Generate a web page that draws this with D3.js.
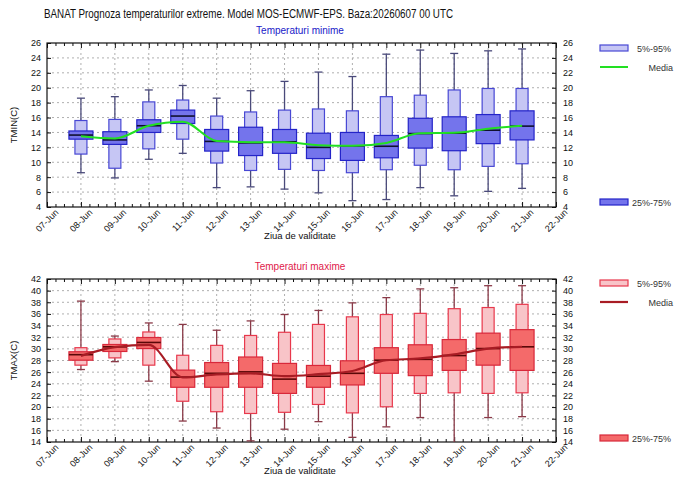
<!DOCTYPE html>
<html><head><meta charset="utf-8">
<script src="https://cdn.jsdelivr.net/npm/d3@7"></script>
<style>body{margin:0;background:#fff}svg{display:block;font-family:"Liberation Sans",Arial,sans-serif}</style>
</head><body><svg id="c" width="692" height="480"></svg>
<script>
const dateLabels = ["07-Jun","08-Jun","09-Jun","10-Jun","11-Jun","12-Jun","13-Jun","14-Jun","15-Jun","16-Jun","17-Jun","18-Jun","19-Jun","20-Jun","21-Jun","22-Jun"];
const dayIdx = [1,2,3,4,5,6,7,8,9,10,11,12,13,14];

const tminMax  = [18.6,18.8,19.7,20.3,18.6,19.6,20.85,22.1,21.5,24.5,25.05,24.6,24.95,25.2];
const tminP95  = [15.6,15.75,18.1,18.35,16.2,16.75,17.0,17.15,16.9,18.8,19.0,19.7,19.9,19.9];
const tminP75  = [14.2,14.1,15.7,17.0,14.4,14.7,14.4,13.9,14.0,13.6,15.9,16.1,16.4,16.9];
const tminMed  = [13.65,13.0,14.9,16.2,12.8,12.6,12.75,12.0,12.2,12.15,13.85,13.9,14.3,14.85];
const tminP25  = [13.1,12.4,14.0,15.2,11.5,10.9,11.2,10.5,10.25,10.6,11.9,11.55,12.5,13.0];
const tminP5   = [11.1,9.2,11.8,13.1,9.9,8.9,9.05,8.9,8.6,9.0,9.6,9.0,9.45,9.8];
const tminMin  = [8.6,7.9,10.4,11.2,6.6,6.7,6.4,5.9,4.85,5.0,6.6,5.5,6.1,6.5];
const tminMean = [13.5,13.2,14.9,15.45,12.85,12.7,12.7,12.3,12.2,12.6,13.9,13.95,14.5,14.9];

const tmaxMax  = [38.2,32.2,34.45,34.2,33.2,34.8,35.9,36.6,37.9,38.8,40.3,40.5,40.85,40.85];
const tmaxP95  = [30.2,31.7,32.9,28.9,30.6,32.3,32.85,34.2,35.5,35.9,36.1,36.9,37.1,37.65];
const tmaxP75  = [29.5,30.75,31.95,26.35,27.65,28.6,27.5,27.15,27.95,30.2,30.7,31.6,32.7,33.3];
const tmaxMed  = [29.0,30.35,31.1,25.15,25.8,26.05,24.8,25.3,25.8,28.05,28.2,28.85,30.05,30.35];
const tmaxP25  = [28.05,29.55,30.05,23.4,23.4,23.4,22.35,23.4,23.8,25.8,25.4,26.3,27.2,26.3];
const tmaxP5   = [27.2,28.45,27.2,21.0,19.2,18.9,19.1,20.45,19.0,20.05,22.35,22.45,22.35,22.45];
const tmaxMin  = [26.45,27.8,24.45,17.6,16.4,14.2,16.2,17.5,14.8,16.6,18.2,13.9,18.2,18.35];
const tmaxMean = [28.8,30.3,30.7,25.1,25.6,25.8,25.3,25.65,26.2,28.05,28.35,29.05,30.05,30.35];

const tminTicks = d3.range(4, 27, 2);
const tmaxTicks = d3.range(14, 43, 2);

const svg = d3.select("#c");
const X0 = 47, X1 = 556;
const x = d3.scaleLinear().domain([0, 15]).range([X0, X1]);

svg.append("text").attr("x", 44).attr("y", 18)
  .attr("font-size", 12).attr("fill","#111")
  .attr("textLength", 409).attr("lengthAdjust", "spacingAndGlyphs")
  .text("BANAT  Prognoza temperaturilor extreme.  Model MOS-ECMWF-EPS. Baza:20260607 00 UTC");

function panel(cfg) {
  const {top, bottom, domain, ticks, id, sub, subColor, ylab, col, data, legY} = cfg;
  const y = d3.scaleLinear().domain(domain).range([bottom, top]);
  const g = svg.append("g");
  g.append("text").attr("x", 300).attr("y", top - 9).attr("text-anchor","middle")
    .attr("font-size", 10).attr("fill", subColor).text(sub);
  g.append("clipPath").attr("id", id).append("rect")
    .attr("x", X0).attr("y", top).attr("width", X1 - X0).attr("height", bottom - top);
  // grid
  const grid = g.append("g").attr("stroke","#9a9a9a").attr("stroke-width",0.8).attr("stroke-dasharray","2,3");
  grid.selectAll(".gy").data(ticks.slice(1, -1)).join("line")
    .attr("x1", X0).attr("x2", X1).attr("y1", d => y(d)).attr("y2", d => y(d));
  grid.selectAll(".gx").data(d3.range(1, 15)).join("line")
    .attr("x1", d => x(d)).attr("x2", d => x(d)).attr("y1", top).attr("y2", bottom);
  // axes
  const fs = 9;
  const left = d3.axisLeft(y).tickValues(ticks).tickSize(-4).tickPadding(6);
  const right = d3.axisRight(y).tickValues(ticks).tickSize(-4).tickPadding(7);
  const ga = g.append("g").attr("transform", `translate(${X0},0)`).call(left);
  const gb = g.append("g").attr("transform", `translate(${X1},0)`).call(right);
  const xMinor = d3.range(0, 15.01, 0.25);
  const gx = g.append("g").attr("transform", `translate(0,${bottom})`)
    .call(d3.axisBottom(x).tickValues(xMinor).tickSize(0).tickFormat(""));
  gx.selectAll(".tick line").attr("y2", d => Number.isInteger(d) ? -5 : -3);
  const gt = g.append("g").attr("transform", `translate(0,${top})`)
    .call(d3.axisTop(x).tickValues(xMinor).tickSize(0).tickFormat(""));
  gt.selectAll(".tick line").attr("y2", d => Number.isInteger(d) ? 5 : 3);
  [ga, gb, gx, gt].forEach(a => {
    a.select(".domain").remove();
    a.selectAll("text").attr("font-size", fs).attr("fill","#111").attr("font-family",'"Liberation Sans",Arial,sans-serif');
    a.selectAll("line").attr("stroke","#111");
  });
  g.append("rect").attr("x", X0).attr("y", top).attr("width", X1 - X0).attr("height", bottom - top)
    .attr("fill","none").attr("stroke","#111").attr("stroke-width",1.2);
  // x labels
  g.selectAll(".xl").data(dateLabels).join("text")
    .attr("font-size", fs).attr("fill","#111").attr("text-anchor","end")
    .attr("transform", (d, i) => `translate(${x(i) + 12},${bottom + 6}) rotate(-45)`).text(d => d);
  g.append("text").attr("x", 300).attr("y", bottom + 32).attr("text-anchor","middle")
    .attr("font-size", 9.5).attr("fill","#111").text("Ziua de validitate");
  g.append("text").attr("transform", `translate(17,${(top + bottom) / 2}) rotate(-90)`)
    .attr("text-anchor","middle").attr("font-size", 9.5).attr("fill","#111").text(ylab);

  // boxes
  const pl = g.append("g").attr("clip-path", `url(#${id})`);
  const W = 24, w = 12, cap = 8;
  dayIdx.forEach((di, i) => {
    const cx = x(di);
    pl.append("line").attr("x1", cx).attr("x2", cx).attr("y1", y(data.min[i])).attr("y2", y(data.max[i]))
      .attr("stroke", col.wh).attr("stroke-width", 1.3);
    [data.min[i], data.max[i]].forEach(v => pl.append("line").attr("x1", cx - cap / 2).attr("x2", cx + cap / 2)
      .attr("y1", y(v)).attr("y2", y(v)).attr("stroke", col.wh).attr("stroke-width", 1.3));
    pl.append("rect").attr("x", cx - w / 2).attr("width", w).attr("y", y(data.p95[i]))
      .attr("height", y(data.p5[i]) - y(data.p95[i])).attr("fill", col.lf).attr("stroke", col.ls).attr("stroke-width", 1.2);
    pl.append("rect").attr("x", cx - W / 2).attr("width", W).attr("y", y(data.p75[i]))
      .attr("height", y(data.p25[i]) - y(data.p75[i])).attr("fill", col.df).attr("stroke", col.ds).attr("stroke-width", 1.2);
    pl.append("line").attr("x1", cx - W / 2).attr("x2", cx + W / 2).attr("y1", y(data.med[i])).attr("y2", y(data.med[i]))
      .attr("stroke", col.med).attr("stroke-width", 1.6);
  });
  const line = d3.line().x((d, i) => x(dayIdx[i])).y(d => y(d)).curve(d3.curveMonotoneX);
  pl.append("path").datum(data.mean).attr("d", line).attr("fill","none")
    .attr("stroke", col.mean).attr("stroke-width", col.mw);

  // legend
  const lg = g.append("g");
  lg.append("rect").attr("x", 600).attr("y", legY[0] - 3).attr("width", 28).attr("height", 6)
    .attr("fill", col.lf).attr("stroke", col.ls).attr("stroke-width", 1.2);
  lg.append("text").attr("x", 637).attr("y", legY[0] + 3.5).attr("font-size", 9).attr("fill","#333").text("5%-95%");
  lg.append("line").attr("x1", 600).attr("x2", 628).attr("y1", legY[1]).attr("y2", legY[1])
    .attr("stroke", col.mean).attr("stroke-width", col.mw);
  lg.append("text").attr("x", 673).attr("y", legY[1] + 3.5).attr("text-anchor","end").attr("font-size", 9).attr("fill","#333").text("Media");
  lg.append("rect").attr("x", 600).attr("y", legY[2] - 3).attr("width", 28).attr("height", 6)
    .attr("fill", col.df).attr("stroke", col.ds).attr("stroke-width", 1.2);
  lg.append("text").attr("x", 632).attr("y", legY[2] + 3.5).attr("font-size", 9).attr("fill","#333").text("25%-75%");
}

panel({top: 43, bottom: 207, domain: [4, 26], ticks: tminTicks, id: "clipA",
  sub: "Temperaturi minime", subColor: "#2020c8", ylab: "TMIN(C)",
  col: {wh: "#4a4a7a", lf: "#c6c6f4", ls: "#4848d4", df: "#7474ec", ds: "#2424c8", med: "#101030", mean: "#22e022", mw: 2},
  data: {min: tminMin, p5: tminP5, p25: tminP25, med: tminMed, p75: tminP75, p95: tminP95, max: tminMax, mean: tminMean},
  legY: [48, 67, 202]});

panel({top: 279, bottom: 442, domain: [14, 42], ticks: tmaxTicks, id: "clipB",
  sub: "Temperaturi maxime", subColor: "#e0204a", ylab: "TMAX(C)",
  col: {wh: "#8a3a48", lf: "#f8c4c8", ls: "#e8384c", df: "#f46a6a", ds: "#d8283a", med: "#5a0808", mean: "#a81c24", mw: 2.2},
  data: {min: tmaxMin, p5: tmaxP5, p25: tmaxP25, med: tmaxMed, p75: tmaxP75, p95: tmaxP95, max: tmaxMax, mean: tmaxMean},
  legY: [283, 302, 438]});
</script></body></html>
